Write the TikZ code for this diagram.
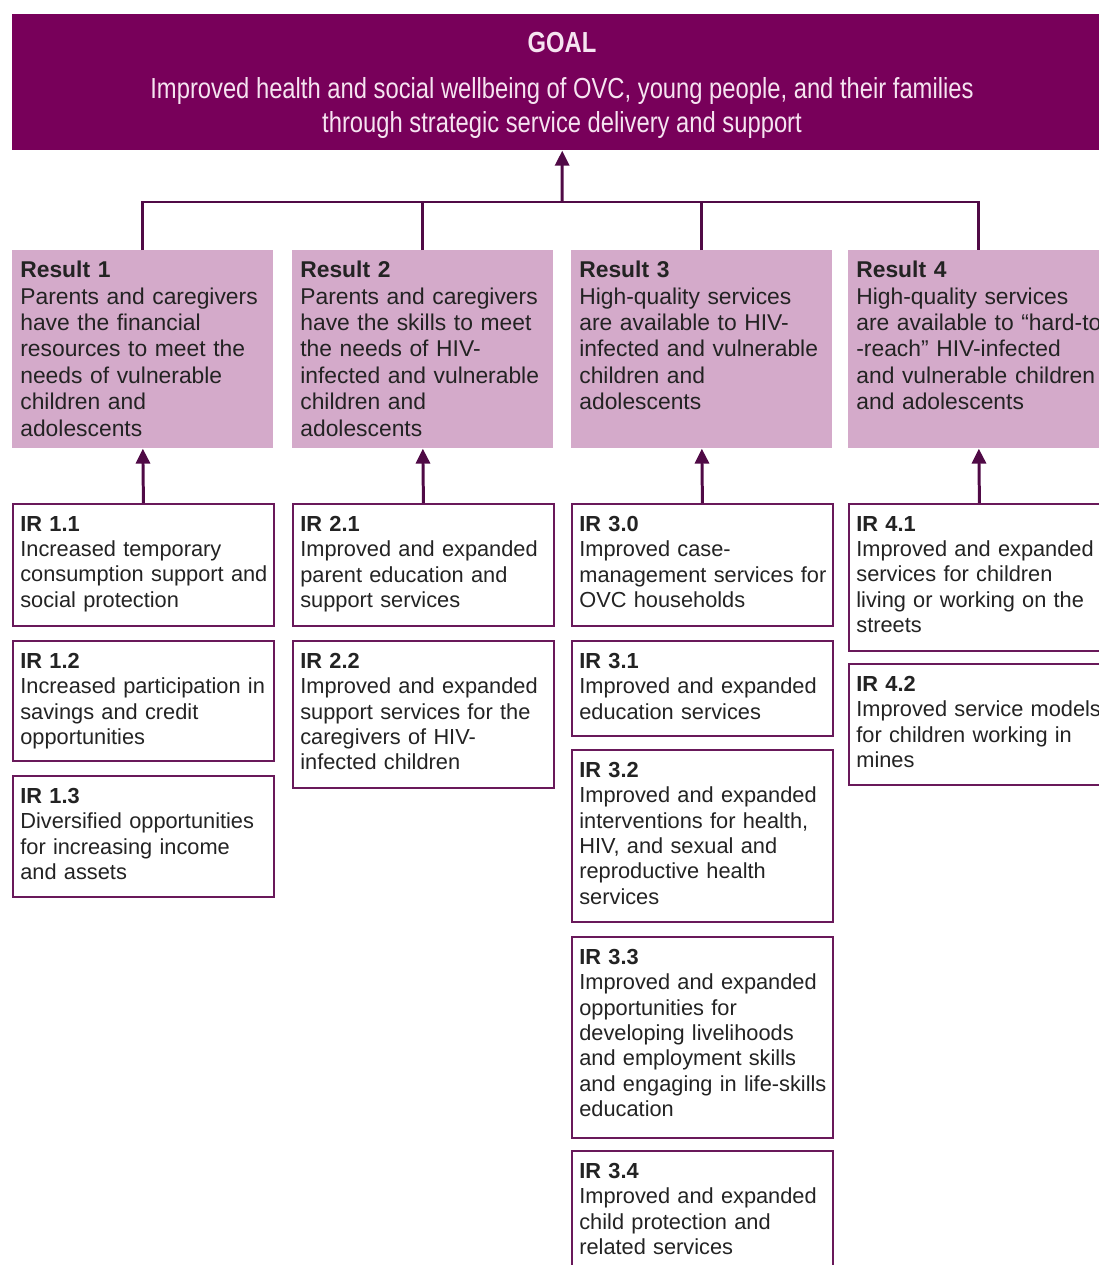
\documentclass[tikz,border=0pt]{standalone}
\usepackage{fontspec}
\setmainfont{Liberation Sans}
\newfontfamily\goalfont[FakeStretch=0.82]{Liberation Sans}
\usepackage{tikz}
\usetikzlibrary{arrows.meta}

\definecolor{goalpurple}{RGB}{120,0,90}
\definecolor{resultpink}{RGB}{212,170,202}
\definecolor{linkpurple}{RGB}{80,10,70}
\definecolor{irborder}{RGB}{105,25,90}
\definecolor{bodygray}{RGB}{35,35,35}
\definecolor{goaltext}{RGB}{246,228,241}

\begin{document}
\begin{tikzpicture}[x=0.02cm,y=-0.02cm,
  resbox/.style={rectangle,fill=resultpink,anchor=north west,inner sep=0pt,minimum width=5.22cm,minimum height=3.96cm},
  irbox/.style={rectangle,draw=irborder,line width=1.1pt,fill=white,anchor=north west,inner sep=0pt,minimum width=5.22cm,minimum height=#1*0.02cm},
  restext/.style={anchor=north west,inner sep=0pt,text width=6cm,align=left,text=bodygray,font=\fontsize{13}{15}\selectfont},
  irtext/.style={anchor=north west,inner sep=0pt,text width=6cm,align=left,text=bodygray,font=\fontsize{12.4}{14.4}\selectfont},
  goalline/.style={anchor=base,inner sep=0pt,text=goaltext,font=\goalfont\fontsize{16.5}{19}\selectfont},
  link/.style={draw=linkpurple,line width=1.7pt},
  up/.style={link,-{Triangle[length=8.5pt,width=8pt]}}]
\useasboundingbox (0,0) rectangle (1099,1265);
\clip (0,0) rectangle (1099,1265);

% goal
\node [rectangle,fill=goalpurple,anchor=north west,inner sep=0pt,minimum width=22cm,minimum height=2.72cm] (goal) at(12,14){};
\node [goalline,font=\goalfont\bfseries\fontsize{16.5}{19}\selectfont] (goaltitle) at(562,52){GOAL};
\node [goalline] (goalone) at(562,98){Improved health and social wellbeing of OVC, young people, and their families};
\node [goalline] (goaltwo) at(562,132){through strategic service delivery and support};

% results
\node [resbox] (r1) at(12,250){};
\node [resbox] (r2) at(292,250){};
\node [resbox] (r3) at(571,250){};
\node [resbox] (r4) at(848,250){};

\node [restext] (r1t) at([xshift=0.16cm,yshift=-0.22cm]r1.north west){\textbf{Result 1}\\Parents and caregivers\\have the financial\\resources to meet the\\needs of vulnerable\\children and\\adolescents};
\node [restext] (r2t) at([xshift=0.16cm,yshift=-0.22cm]r2.north west){\textbf{Result 2}\\Parents and caregivers\\have the skills to meet\\the needs of HIV-\\infected and vulnerable\\children and\\adolescents};
\node [restext] (r3t) at([xshift=0.16cm,yshift=-0.22cm]r3.north west){\textbf{Result 3}\\High-quality services\\are available to HIV-\\infected and vulnerable\\children and\\adolescents};
\node [restext] (r4t) at([xshift=0.16cm,yshift=-0.22cm]r4.north west){\textbf{Result 4}\\High-quality services\\are available to “hard-to\\-reach” HIV-infected\\and vulnerable children\\and adolescents};

% intermediate results
\node [irbox=122] (ir11) at(12,503){};
\node [irbox=120] (ir12) at(12,640){};
\node [irbox=121] (ir13) at(12,775){};
\node [irbox=122] (ir21) at(292,503){};
\node [irbox=147] (ir22) at(292,640){};
\node [irbox=122] (ir30) at(571,503){};
\node [irbox=95] (ir31) at(571,640){};
\node [irbox=172] (ir32) at(571,749){};
\node [irbox=201] (ir33) at(571,936){};
\node [irbox=160] (ir34) at(571,1150){};
\node [irbox=147] (ir41) at(848,503){};
\node [irbox=121] (ir42) at(848,663){};

\node [irtext] (ir11t) at([xshift=0.16cm,yshift=-0.26cm]ir11.north west){\textbf{IR 1.1}\\Increased temporary\\consumption support and\\social protection};
\node [irtext] (ir12t) at([xshift=0.16cm,yshift=-0.26cm]ir12.north west){\textbf{IR 1.2}\\Increased participation in\\savings and credit\\opportunities};
\node [irtext] (ir13t) at([xshift=0.16cm,yshift=-0.26cm]ir13.north west){\textbf{IR 1.3}\\Diversified opportunities\\for increasing income\\and assets};
\node [irtext] (ir21t) at([xshift=0.16cm,yshift=-0.26cm]ir21.north west){\textbf{IR 2.1}\\Improved and expanded\\parent education and\\support services};
\node [irtext] (ir22t) at([xshift=0.16cm,yshift=-0.26cm]ir22.north west){\textbf{IR 2.2}\\Improved and expanded\\support services for the\\caregivers of HIV-\\infected children};
\node [irtext] (ir30t) at([xshift=0.16cm,yshift=-0.26cm]ir30.north west){\textbf{IR 3.0}\\Improved case-\\management services for\\OVC households};
\node [irtext] (ir31t) at([xshift=0.16cm,yshift=-0.26cm]ir31.north west){\textbf{IR 3.1}\\Improved and expanded\\education services};
\node [irtext] (ir32t) at([xshift=0.16cm,yshift=-0.26cm]ir32.north west){\textbf{IR 3.2}\\Improved and expanded\\interventions for health,\\HIV, and sexual and\\reproductive health\\services};
\node [irtext] (ir33t) at([xshift=0.16cm,yshift=-0.26cm]ir33.north west){\textbf{IR 3.3}\\Improved and expanded\\opportunities for\\developing livelihoods\\and employment skills\\and engaging in life-skills\\education};
\node [irtext] (ir34t) at([xshift=0.16cm,yshift=-0.26cm]ir34.north west){\textbf{IR 3.4}\\Improved and expanded\\child protection and\\related services};
\node [irtext] (ir41t) at([xshift=0.16cm,yshift=-0.26cm]ir41.north west){\textbf{IR 4.1}\\Improved and expanded\\services for children\\living or working on the\\streets};
\node [irtext] (ir42t) at([xshift=0.16cm,yshift=-0.26cm]ir42.north west){\textbf{IR 4.2}\\Improved service models\\for children working in\\mines};

% connectors
\coordinate (hub) at(562,202);
\draw[up](hub) -- (goal.south);
\draw[link](r1.north) -- (r1.north |- hub) -- (r4.north |- hub) -- (r4.north);
\draw[link](r2.north) -- (r2.north |- hub);
\draw[link](r3.north) -- (r3.north |- hub);

\draw[up](ir11.north) -- (r1.south);
\draw[up](ir21.north) -- (r2.south);
\draw[up](ir30.north) -- (r3.south);
\draw[up](ir41.north) -- (r4.south);

\end{tikzpicture}
\end{document}
